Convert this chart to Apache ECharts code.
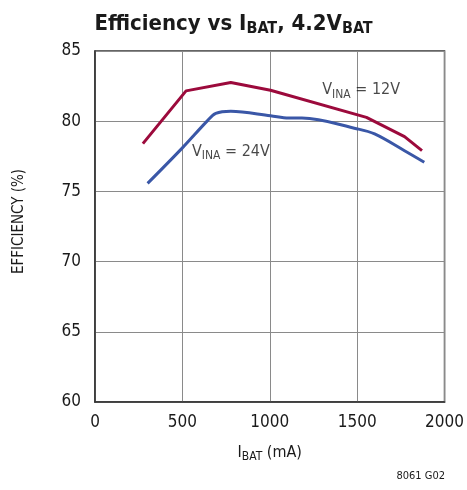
<!DOCTYPE html>
<html><head><meta charset="utf-8">
<script src="https://cdn.jsdelivr.net/npm/echarts@6/dist/echarts.min.js"></script>
<style>html,body{margin:0;padding:0;background:#fff;overflow:hidden}#c{width:467px;height:490px}</style>
</head><body><div id="c"></div>
<script>
const xTicks = [0, 500, 1000, 1500, 2000];
const yTicks = [60, 65, 70, 75, 80, 85];
const vin12 = [[274, 78.4], [521, 82.16], [777, 82.75], [1004, 82.2], [1553, 80.27], [1771, 78.9], [1871, 77.9]];
const vin24 = [[301, 75.57], [500, 78.1], [644, 80.04], [691, 80.55], [777, 80.7], [1004, 80.39], [1108, 80.23], [1184, 80.23], [1502, 79.45], [1600, 79.09], [1771, 77.9], [1884, 77.08]];
const labels = [
  { text: '{m|V}{s|INA}{m| = 12V}', at: [1300, 82.2] },
  { text: '{m|V}{s|INA}{m| = 24V}', at: [555, 77.85] }
];
const FONT = '"DejaVu Sans Condensed", "Liberation Sans Narrow", sans-serif';
const chart = echarts.init(document.getElementById('c'));
const rich = {
  m: { fontFamily: FONT, fontSize: 16, color: '#1a1a1a' },
  s: { fontFamily: FONT, fontSize: 12, color: '#1a1a1a', padding: [9, 0, 0, 0] }
};
chart.setOption({
  animation: false,
  backgroundColor: '#fff',
  title: {
    text: '{t|Efficiency vs I}{ts|BAT}{t|, 4.2V}{ts|BAT}',
    left: 'center', top: 6,
    textStyle: { rich: {
      t: { fontFamily: FONT, fontWeight: 'bold', fontSize: 22, color: '#1a1a1a' },
      ts: { fontFamily: FONT, fontWeight: 'bold', fontSize: 16, color: '#1a1a1a', padding: [10, 0, 0, 0] }
    } }
  },
  grid: { left: 95, right: 19, top: 51, bottom: 88, show: true, borderColor: '#333', borderWidth: 1.5, containLabel: false },
  xAxis: {
    type: 'value', min: xTicks[0], max: xTicks[xTicks.length - 1], interval: 500,
    name: '{m|I}{s|BAT}{m| (mA)}', nameLocation: 'middle', nameGap: 40,
    nameTextStyle: { rich: rich },
    axisLine: { show: true, lineStyle: { color: '#333', width: 1.5 } },
    axisTick: { show: false },
    axisLabel: { fontFamily: FONT, fontSize: 17, color: '#1a1a1a', margin: 12, formatter: v => String(v) },
    splitLine: { show: true, lineStyle: { color: '#8a8a8a', width: 1 } }
  },
  yAxis: {
    type: 'value', min: yTicks[0], max: yTicks[yTicks.length - 1], interval: 5,
    name: 'EFFICIENCY (%)', nameLocation: 'middle', nameGap: 68, nameRotate: 90,
    nameTextStyle: { fontFamily: FONT, fontSize: 15, color: '#1a1a1a', padding: [0, 0, 0, 10] },
    axisLine: { show: true, lineStyle: { color: '#333', width: 1.5 } },
    axisTick: { show: false },
    axisLabel: { fontFamily: FONT, fontSize: 17, color: '#1a1a1a', margin: 14 },
    splitLine: { show: true, lineStyle: { color: '#8a8a8a', width: 1 } }
  },
  series: [
    { name: '12V', type: 'line', data: vin12, showSymbol: false, lineStyle: { color: '#9c0a3c', width: 3 } },
    { name: '24V', type: 'line', data: vin24, showSymbol: false, smooth: 0.35, lineStyle: { color: '#3a57a7', width: 3 } },
    { type: 'scatter', symbolSize: 0, silent: true,
      data: labels.map(l => ({ value: l.at, label: { show: true, position: 'right', distance: 0, color: '#1a1a1a', formatter: l.text, rich: rich } })) }
  ],
  graphic: [{ type: 'text', right: 22, bottom: 8, style: { text: '8061 G02', fontFamily: FONT, fontSize: 11, fill: '#1a1a1a' } }]
});
</script></body></html>
